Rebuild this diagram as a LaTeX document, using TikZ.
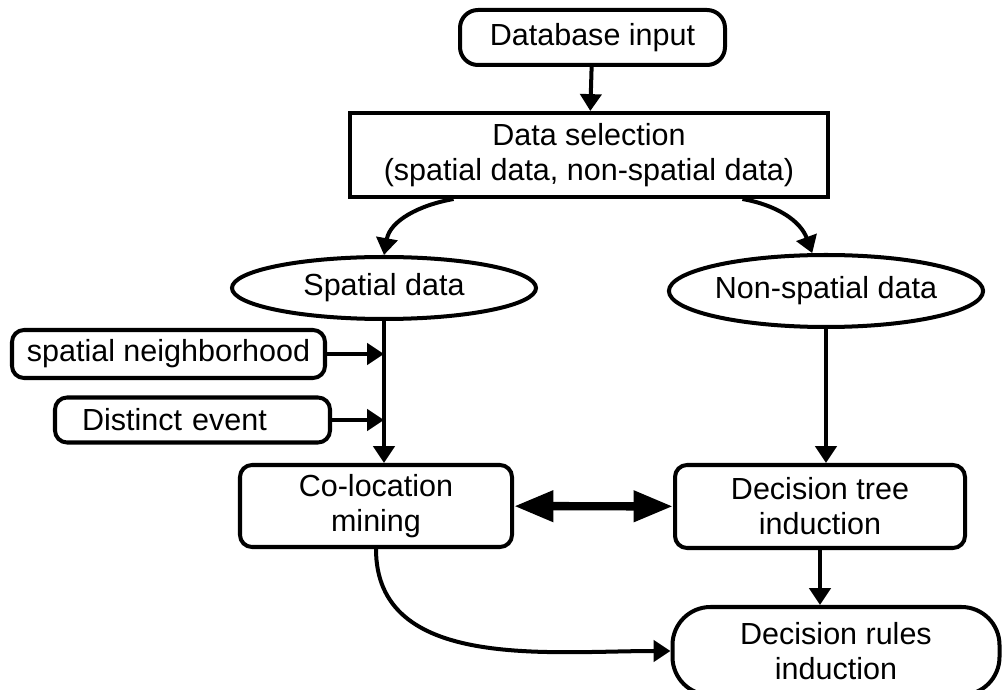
\documentclass[tikz,border=0pt]{standalone}
\usepackage{fontspec}
\setmainfont{Liberation Sans}
\usetikzlibrary{shapes.geometric,arrows.meta}
\begin{document}
\begin{tikzpicture}[
    line width=2.85pt,
    >={Triangle[length=12pt,width=15pt]},
    txt/.style={font=\fontsize{21.7pt}{25pt}\selectfont,align=center,inner sep=0pt},
    rbox/.style={txt,draw,rounded corners=0.3cm},
    ebox/.style={txt,draw,ellipse}]
    \useasboundingbox (0,0) rectangle (25.075,17.225);
    % top of the flow
    \node[rbox,rounded corners=0.45cm,minimum width=6.625cm,minimum height=1.375cm] (db) at (14.8125,16.2875) {Database input};
    \node[txt,draw,sharp corners,minimum width=11.95cm,minimum height=2.1cm] (sel) at (14.725,13.35) {Data selection\\(spatial data, non-spatial data)};
    \node[ebox,minimum width=7.6cm,minimum height=1.55cm] (sp) at (9.6,10.025) {Spatial data};
    \node[ebox,minimum width=7.575cm,minimum height=1.8cm] (nsp) at (20.65,9.95) {Non-spatial data};
    % side inputs
    \node[rbox,minimum width=7.825cm,minimum height=1.2cm] (nb) at (4.2125,8.375) {spatial neighborhood};
    \node[rbox,align=left,text width=5.525cm,inner xsep=0.675cm,minimum height=1.125cm] (ev) at (4.8125,6.725) {Distinct event};
    % mining steps
    \node[rbox,minimum width=6.8cm,minimum height=2.05cm] (col) at (9.4,4.575) {Co-location\\mining};
    \node[rbox,minimum width=7.25cm,minimum height=2.075cm] (dt) at (20.5,4.5625) {Decision tree\\induction};
    \node[rbox,rounded corners=0.95cm,minimum width=8.175cm,minimum height=2.2cm] (dr) at (20.9,0.95) {Decision rules\\induction};
    % arrows
    \draw[->] (db) -- (sel);
    \draw[->] (sel.198) to[out=190,in=80] (sp.north);
    \draw[->] (sel.344) to[out=-10,in=110] (nsp.110);
    \draw[->] (sp.south) -- (sp.south |- col.north);
    \draw[->] (nb.east) -- (nb.east -| sp.south);
    \draw[->] (ev.east) -- (ev.east -| sp.south);
    \draw[->] (nsp.south) -- (nsp.south |- dt.north);
    \draw[line width=6pt,{Triangle[length=28pt,width=21pt]}-{Triangle[length=28pt,width=21pt]}] (col) -- (dt);
    \draw[->] (dt.south) -- (dt.south |- dr.north);
    \draw[->] (col.south) to[out=-90,in=180] (dr.west);
\end{tikzpicture}
\end{document}
